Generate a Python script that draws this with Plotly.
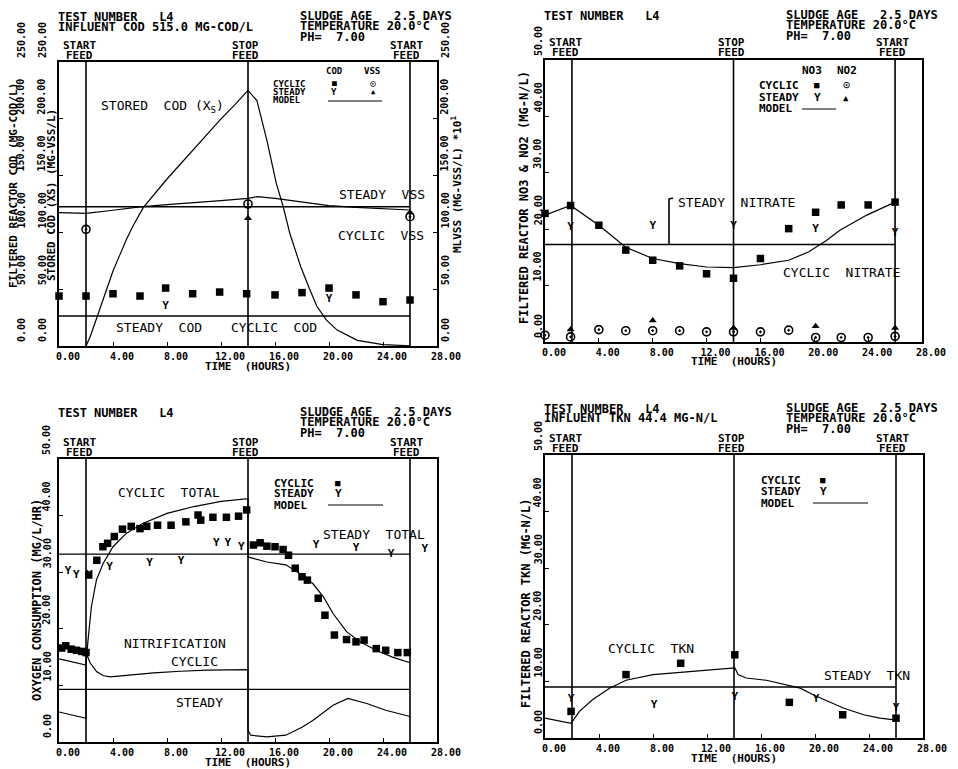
import plotly.graph_objects as go

# page is offset by the default 8px body margin; positions below are page pixels
OX, OY = 8, 8
FW, FH = 950, 761
FONT = "DejaVu Sans Mono"

# ---------------- data ----------------
FEED_TIMES = [2, 14, 26]          # start feed, stop feed, start feed (h)
X_TICKS = [0, 4, 8, 12, 16, 20, 24, 28]
X_TICK_TEXT = ["0.00", "4.00", "8.00", "12.00", "16.00", "20.00", "24.00", "28.00"]
COD_TICKS = [0, 50, 100, 150, 200, 250]
COD_TICK_TEXT = ["0.00", "50.00", "100.00", "150.00", "200.00", "250.00"]
N_TICKS = [0, 10, 20, 30, 40, 50]
N_TICK_TEXT = ["0.00", "10.00", "20.00", "30.00", "40.00", "50.00"]

# Panel 1: COD / VSS
COD_CYC_T = [0, 2, 4, 6, 7.9, 9.9, 11.9, 13.9, 16, 18, 20, 22, 24, 26]
COD_CYC_V = [44, 44, 46, 44, 51, 46, 47.5, 46, 45, 47, 51, 45, 39, 40.5]
COD_STD_T = [7.9, 20]
COD_STD_V = [34.6, 41]
COD_STD_MODEL = 26.4
XS_MODEL_T = [2, 2.3, 2.6, 3.0, 3.5, 4.0, 4.5, 5.0, 5.5, 6.25, 8, 10, 11, 12, 13, 14,
              14.66, 15.4, 16.1, 16.6, 17.1, 17.9, 18.5, 19.1, 19.8, 20.6, 22.1, 24, 26]
XS_MODEL_V = [0, 8, 18, 32, 50, 66, 80, 94, 106, 122, 147, 174, 187, 200, 212, 225,
              216, 181, 143, 123, 99, 70, 52, 35, 23, 14, 5, 1.2, 0.2]
VSS_CYC_T = [2, 14, 26]
VSS_CYC_V = [102.7, 125, 113.8]
VSS_STD_T = [14, 26]
VSS_STD_V = [112.4, 117.5]
VSS_STD_MODEL = 122.6
VSS_MODEL_T = [0, 2, 4, 6, 8, 10, 12, 14, 14.7, 16, 18, 20, 22, 24, 26]
VSS_MODEL_V = [117.4, 116.8, 119.5, 122.5, 124.5, 126, 128, 130, 131.5, 130, 126.5, 123.5, 122, 121, 119.7]

# Panel 2: nitrate / nitrite
NO3_CYC_T = [0, 1.9, 4, 6, 8, 10, 12, 14, 16, 18.1, 20.1, 22, 24, 26]
NO3_CYC_V = [22.8, 24.2, 20.7, 16.3, 14.5, 13.5, 12.1, 11.3, 14.8, 20.1, 23.0, 24.3, 24.3, 24.8]
NO3_STD_T = [1.9, 8, 14, 20.1, 26]
NO3_STD_V = [20.4, 20.5, 20.6, 20.0, 19.2]
NO3_STD_MODEL = 17.3
NO3_MODEL_T = [0, 1.9, 4, 6, 8, 10, 12, 14, 16, 18.1, 19.6, 20.9, 21.9, 23.9, 26]
NO3_MODEL_V = [22.5, 24.2, 20.7, 16.8, 14.8, 13.9, 13.3, 13.2, 13.7, 14.5, 16, 18, 19.8, 22.5, 24.8]
NO2_CYC_T = [0, 1.9, 4, 6, 8, 10, 12, 14, 16, 18.1, 20.1, 22, 24, 26]
NO2_CYC_V = [1.2, 0.9, 2.2, 2.0, 2.0, 2.0, 1.8, 1.8, 1.8, 2.1, 0.8, 0.8, 0.8, 1.0]
NO2_STD_T = [1.9, 8, 14, 20.1, 26]
NO2_STD_V = [2.2, 3.8, 2.5, 2.8, 2.5]

# Panel 3: oxygen consumption
OUR_CYC_T = [0.2, 0.5, 0.9, 1.3, 1.7, 2.0, 2.2, 2.8, 3.25, 3.6, 4.1, 4.7, 5.35, 6.0, 6.5,
             7.3, 8.3, 9.4, 10.3, 10.5, 11.4, 12.4, 13.3, 13.9, 14.4, 14.9, 15.4, 16.0,
             16.6, 17.0, 17.5, 18.0, 18.4, 19.2, 19.7, 20.4, 21.3, 22.0, 22.6, 23.5, 24.2,
             25.1, 25.8]
OUR_CYC_V = [16.6, 17.0, 16.4, 16.2, 16.0, 15.8, 29.5, 32.1, 34.5, 35.1, 36.3, 37.6, 38.1,
             37.7, 38.1, 38.3, 38.3, 38.9, 40.1, 39.2, 39.7, 39.7, 39.9, 41.0, 34.8, 35.2,
             34.6, 34.5, 34.0, 33.0, 30.7, 29.2, 28.6, 25.4, 22.4, 18.9, 18.1, 17.7, 18.0,
             16.5, 16.2, 15.8, 15.8]
OUR_STD_T = [0.67, 1.28, 2.25, 3.75, 6.7, 9.05, 11.65, 12.5, 13.5, 19.05, 22.0, 24.6, 27.1]
OUR_STD_V = [30.1, 29.5, 29.5, 30.8, 31.5, 32.0, 35.1, 35.1, 34.4, 34.8, 34.2, 33.2, 34.1]
OUR_STD_TOTAL = 33.2
OUR_STD_NIT = 9.3
OUR_TOT_MODEL_T = [0, 2, 2.0, 2.15, 2.4, 2.77, 3.26, 4.0, 5.0, 6.2, 8.0, 10.0, 12.0, 14.0,
                   14.0, 15.4, 16.8, 17.8, 18.8, 19.6, 20.3, 21.3, 22.3, 23.5, 24.7, 26.0]
OUR_TOT_MODEL_V = [14.7, 13.6, 13.6, 18, 23.9, 28.6, 31.5, 34.5, 36.9, 38.6, 40.4, 41.6,
                   42.5, 43.0, 32.7, 31.8, 31.3, 29.8, 28.0, 25.6, 22.7, 19.5, 17.7, 16.2,
                   15.0, 14.0]
OUR_NIT_MODEL_T = [0, 2, 2.0, 2.3, 2.8, 3.3, 3.8, 5, 7, 9, 11, 14, 14, 14.2, 15.4, 16.8,
                   18.0, 18.8, 19.6, 20.3, 21.4, 22.8, 24.2, 26.0]
OUR_NIT_MODEL_V = [5.3, 4.2, 15.8, 14.0, 12.4, 11.7, 11.5, 11.8, 12.2, 12.5, 12.7, 12.8,
                   2.1, 1.2, 0.9, 1.2, 2.6, 3.8, 5.2, 6.5, 7.7, 6.8, 5.6, 4.5]

# Panel 4: TKN
TKN_CYC_T = [1.93, 6.0, 10.05, 14.06, 18.1, 22.05, 26.0]
TKN_CYC_V = [4.7, 11.2, 13.2, 14.7, 6.3, 4.1, 3.5]
TKN_STD_T = [1.93, 8.07, 14.06, 20.07, 26.0]
TKN_STD_V = [6.8, 5.8, 7.2, 6.9, 5.3]
TKN_STD_MODEL = 9.0
TKN_MODEL_T = [0, 1.93, 2.55, 3.54, 4.78, 6.0, 8.0, 10.0, 12.0, 14.06, 14.3, 14.9, 16.4,
               17.9, 18.9, 19.9, 20.9, 22.1, 23.6, 24.8, 25.9]
TKN_MODEL_V = [3.5, 2.6, 4.7, 6.8, 8.8, 10.2, 11.2, 11.6, 11.9, 12.4, 11.2, 10.6, 10.2,
               9.4, 8.8, 7.6, 6.5, 5.3, 4.1, 3.5, 3.2]

# ---------------- helpers ----------------
def fx(x):
    return (x - OX) / FW


def fy(y):
    return 1 - (y - OY) / FH


BLACK = "black"
fig = go.Figure()
ann = []
shapes = []


def text(x, y, s, size=12, xanchor="left", angle=0):
    ann.append(dict(x=fx(x), y=fy(y), xref="paper", yref="paper", text=s, showarrow=False,
                    xanchor=xanchor, yanchor="middle", textangle=angle, borderpad=0,
                    font=dict(family=FONT, size=size, color=BLACK)))


def ytick_labels(xpx, ya, vals, labels):
    # rotated tick labels that start just above their tick, as on the plotter output
    for v, s in zip(vals, labels):
        ann.append(dict(x=fx(xpx), xref="paper", y=v, yref=ya, text="<b>" + s + "</b>",
                        showarrow=False, textangle=-90, xanchor="center", yanchor="bottom",
                        yshift=3, borderpad=0, font=dict(family=FONT, size=10, color=BLACK)))


def squares(t, v, xa, ya, size=7.5):
    fig.add_trace(go.Scatter(x=t, y=v, xaxis=xa, yaxis=ya, mode="markers",
                             marker=dict(symbol="square", size=size, color=BLACK), cliponaxis=False))


def ys(t, v, xa, ya):
    fig.add_trace(go.Scatter(x=t, y=v, xaxis=xa, yaxis=ya, mode="text", text=["<b>Y</b>"] * len(t),
                             textposition="middle center",
                             textfont=dict(family=FONT, size=11, color=BLACK), cliponaxis=False))


def circles(t, v, xa, ya):
    fig.add_trace(go.Scatter(x=t, y=v, xaxis=xa, yaxis=ya, mode="markers",
                             marker=dict(symbol="circle-open-dot", size=8, color=BLACK,
                                         line=dict(width=1.6, color=BLACK)), cliponaxis=False))


def triangles(t, v, xa, ya):
    fig.add_trace(go.Scatter(x=t, y=v, xaxis=xa, yaxis=ya, mode="markers",
                             marker=dict(symbol="triangle-up", size=7, color=BLACK), cliponaxis=False))


def curve(t, v, xa, ya, w=1.2):
    fig.add_trace(go.Scatter(x=t, y=v, xaxis=xa, yaxis=ya, mode="lines",
                             line=dict(color=BLACK, width=w), cliponaxis=False))


def steady(val, xa, ya):
    curve([0, FEED_TIMES[-1]], [val, val], xa, ya, w=1.4)


def xaxis(L, R, anchor):
    return dict(domain=[fx(L), fx(R)], anchor=anchor, range=[0, 28], tickvals=X_TICKS,
                ticktext=["<b>%s</b>" % s for s in X_TICK_TEXT], showline=True, linewidth=2,
                linecolor=BLACK, mirror=True, ticks="inside", ticklen=4, tickcolor=BLACK,
                ticklabelshift=9, tickfont=dict(family=FONT, size=10, color=BLACK),
                showgrid=False, zeroline=False, automargin=False, fixedrange=True)


def yaxis(T, B, anchor, rng, vals, **kw):
    d = dict(domain=[fy(B), fy(T)], anchor=anchor, range=rng, tickvals=vals,
             showticklabels=False, showline=True, linewidth=2, linecolor=BLACK, mirror=True,
             ticks="inside", ticklen=4, tickcolor=BLACK, showgrid=False, zeroline=False,
             automargin=False, fixedrange=True)
    d.update(kw)
    return d


PANELS = {
    "TL": dict(L=59, T=62, R=437, B=346, xa="x", ya="y", hy=17),
    "TR": dict(L=545, T=60, R=922, B=342, xa="x2", ya="y4", hy=16),
    "BL": dict(L=59, T=459, R=437, B=742, xa="x3", ya="y5", hy=413),
    "BR": dict(L=545, T=455, R=923, B=738, xa="x4", ya="y6", hy=409),
}

# feed lines and headers common to every panel
for key, p in PANELS.items():
    L, T, B, hy = p["L"], p["T"], p["B"], p["hy"]
    for t in FEED_TIMES:
        shapes.append(dict(type="line", xref=p["xa"], yref=p["ya"] + " domain", x0=t, x1=t,
                           y0=0, y1=1, line=dict(color=BLACK, width=1.6)))
    for cx, top in ((L + 20, "START"), (L + 186, "STOP"), (L + 347, "START")):
        text(cx, T - 17, "<b>" + top + "</b>", size=11, xanchor="center")
        text(cx, T - 7, "<b>FEED</b>", size=11, xanchor="center")
    text(L - 2, hy, "<b>TEST NUMBER   L4</b>", size=12)
    text(L + 240, hy - 1, "<b>SLUDGE AGE   2.5 DAYS</b>", size=12)
    text(L + 240, hy + 9, "<b>TEMPERATURE 20.0°C</b>", size=12)
    text(L + 240, hy + 20, "<b>PH=  7.00</b>", size=12)
    text((L + p["R"]) / 2, B + 20, "<b>TIME  (HOURS)</b>", size=11, xanchor="center")

text(57, 27, "<b>INFLUENT COD 515.0 MG-COD/L</b>", size=12)
text(543, 418, "<b>INFLUENT TKN 44.4 MG-N/L</b>", size=12)

# ---------------- panel TL ----------------
squares(COD_CYC_T, COD_CYC_V, "x", "y")
ys(COD_STD_T, COD_STD_V, "x", "y")
steady(COD_STD_MODEL, "x", "y")
curve(XS_MODEL_T, XS_MODEL_V, "x", "y")
circles(VSS_CYC_T, VSS_CYC_V, "x", "y3")
triangles(VSS_STD_T, VSS_STD_V, "x", "y3")
steady(VSS_STD_MODEL, "x", "y3")
curve(VSS_MODEL_T, VSS_MODEL_V, "x", "y3")

text(100, 106, "STORED  COD (X<sub>S</sub>)", size=13)
text(338, 195, "STEADY  VSS", size=13)
text(337, 235, "CYCLIC  VSS", size=13)
text(115, 328, "STEADY  COD", size=13)
text(230, 327, "CYCLIC  COD", size=13)
# legend
text(334, 71, "<b>COD</b>", size=9, xanchor="center")
text(372, 71, "<b>VSS</b>", size=9, xanchor="center")
text(272, 84, "<b>CYCLIC</b>", size=9)
text(272, 92, "<b>STEADY</b>", size=9)
text(272, 100, "<b>MODEL</b>", size=9)
text(334, 84, "■", size=8, xanchor="center")
text(373, 84, "⊙", size=10, xanchor="center")
text(334, 92, "<b>Y</b>", size=9, xanchor="center")
text(373, 92, "▲", size=7, xanchor="center")
shapes.append(dict(type="line", xref="paper", yref="paper", x0=fx(328), x1=fx(382),
                   y0=fy(101), y1=fy(101), line=dict(color=BLACK, width=1.2)))
# axis labels and titles
ytick_labels(21, "y", COD_TICKS, COD_TICK_TEXT)
ytick_labels(42, "y", COD_TICKS, COD_TICK_TEXT)
ytick_labels(445, "y3", COD_TICKS, COD_TICK_TEXT)
text(13, 186, "<b>FILTERED REACTOR COD (MG-COD/L)</b>", size=11, xanchor="center", angle=-90)
text(52, 195, "<b>STORED COD (XS) (MG-VSS/L)</b>", size=11, xanchor="center", angle=-90)
text(457, 185, "<b>MLVSS (MG-VSS/L) *10<sup>1</sup></b>", size=11, xanchor="center", angle=-90)

# ---------------- panel TR ----------------
squares(NO3_CYC_T, NO3_CYC_V, "x2", "y4")
ys(NO3_STD_T, NO3_STD_V, "x2", "y4")
steady(NO3_STD_MODEL, "x2", "y4")
curve(NO3_MODEL_T, NO3_MODEL_V, "x2", "y4")
circles(NO2_CYC_T, NO2_CYC_V, "x2", "y4")
triangles(NO2_STD_T, NO2_STD_V, "x2", "y4")
text(677, 202, "STEADY  NITRATE", size=13)
shapes.append(dict(type="path", xref="paper", yref="paper",
                   path="M %f %f L %f %f L %f %f" % (fx(673), fy(198), fx(669), fy(199), fx(669), fy(244)),
                   line=dict(color=BLACK, width=1.6)))
text(782, 273, "CYCLIC  NITRATE", size=13)
text(812, 70, "<b>NO3</b>", size=11, xanchor="center")
text(847, 70, "<b>NO2</b>", size=11, xanchor="center")
text(758, 85, "<b>CYCLIC</b>", size=11)
text(758, 98, "<b>STEADY</b>", size=11)
text(758, 109, "<b>MODEL</b>", size=11)
text(817, 85, "■", size=9, xanchor="center")
text(846, 85, "⊙", size=12, xanchor="center")
text(817, 98, "<b>Y</b>", size=11, xanchor="center")
text(846, 98, "▲", size=9, xanchor="center")
shapes.append(dict(type="line", xref="paper", yref="paper", x0=fx(802), x1=fx(836),
                   y0=fy(109), y1=fy(109), line=dict(color=BLACK, width=1.2)))
ytick_labels(538, "y4", N_TICKS, N_TICK_TEXT)
text(524, 198, "<b>FILTERED REACTOR NO3 & NO2 (MG-N/L)</b>", size=12, xanchor="center", angle=-90)

# ---------------- panel BL ----------------
squares(OUR_CYC_T, OUR_CYC_V, "x3", "y5")
ys(OUR_STD_T, OUR_STD_V, "x3", "y5")
steady(OUR_STD_TOTAL, "x3", "y5")
steady(OUR_STD_NIT, "x3", "y5")
curve(OUR_TOT_MODEL_T, OUR_TOT_MODEL_V, "x3", "y5")
curve(OUR_NIT_MODEL_T, OUR_NIT_MODEL_V, "x3", "y5")
text(117, 492, "CYCLIC  TOTAL", size=13)
text(123, 643, "NITRIFICATION", size=13)
text(170, 661, "CYCLIC", size=13)
text(175, 702, "STEADY", size=13)
text(322, 534, "STEADY  TOTAL", size=13)
text(273, 483, "<b>CYCLIC</b>", size=11)
text(273, 494, "<b>STEADY</b>", size=11)
text(273, 505, "<b>MODEL</b>", size=11)
text(338, 483, "■", size=9, xanchor="center")
text(338, 494, "<b>Y</b>", size=11, xanchor="center")
shapes.append(dict(type="line", xref="paper", yref="paper", x0=fx(328), x1=fx(383),
                   y0=fy(505), y1=fy(505), line=dict(color=BLACK, width=1.2)))
ytick_labels(47, "y5", N_TICKS, N_TICK_TEXT)
text(37, 600, "<b>OXYGEN CONSUMPTION (MG/L/HR)</b>", size=12, xanchor="center", angle=-90)

# ---------------- panel BR ----------------
squares(TKN_CYC_T, TKN_CYC_V, "x4", "y6")
ys(TKN_STD_T, TKN_STD_V, "x4", "y6")
steady(TKN_STD_MODEL, "x4", "y6")
curve(TKN_MODEL_T, TKN_MODEL_V, "x4", "y6")
text(607, 648, "CYCLIC  TKN", size=13)
text(823, 675, "STEADY  TKN", size=13)
text(760, 480, "<b>CYCLIC</b>", size=11)
text(760, 491, "<b>STEADY</b>", size=11)
text(760, 503, "<b>MODEL</b>", size=11)
text(823, 480, "■", size=9, xanchor="center")
text(823, 491, "<b>Y</b>", size=11, xanchor="center")
shapes.append(dict(type="line", xref="paper", yref="paper", x0=fx(813), x1=fx(868),
                   y0=fy(503), y1=fy(503), line=dict(color=BLACK, width=1.2)))
ytick_labels(538, "y6", N_TICKS, N_TICK_TEXT)
text(526, 603, "<b>FILTERED REACTOR TKN (MG-N/L)</b>", size=12, xanchor="center", angle=-90)

# ---------------- axes ----------------
tl, tr, bl, br = PANELS["TL"], PANELS["TR"], PANELS["BL"], PANELS["BR"]
fig.update_layout(
    width=FW, height=FH, margin=dict(l=0, r=0, t=0, b=0),
    paper_bgcolor="white", plot_bgcolor="white", showlegend=False,
    xaxis=xaxis(tl["L"], tl["R"], "y"),
    yaxis=yaxis(tl["T"], tl["B"], "x", [0, 250], COD_TICKS),
    yaxis2=yaxis(tl["T"], tl["B"], "free", [0, 250], COD_TICKS,
                 overlaying="y", position=fx(29), side="left", mirror=False, ticks="outside"),
    yaxis3=yaxis(tl["T"], tl["B"], "x", [0, 250], COD_TICKS,
                 overlaying="y", side="right", mirror=False),
    xaxis2=xaxis(tr["L"], tr["R"], "y4"),
    yaxis4=yaxis(tr["T"], tr["B"], "x2", [0, 50], N_TICKS),
    xaxis3=xaxis(bl["L"], bl["R"], "y5"),
    yaxis5=yaxis(bl["T"], bl["B"], "x3", [0, 50], N_TICKS),
    xaxis4=xaxis(br["L"], br["R"], "y6"),
    yaxis6=yaxis(br["T"], br["B"], "x4", [0, 50], N_TICKS),
    annotations=ann,
    shapes=shapes,
)

fig.write_html("out.html")
